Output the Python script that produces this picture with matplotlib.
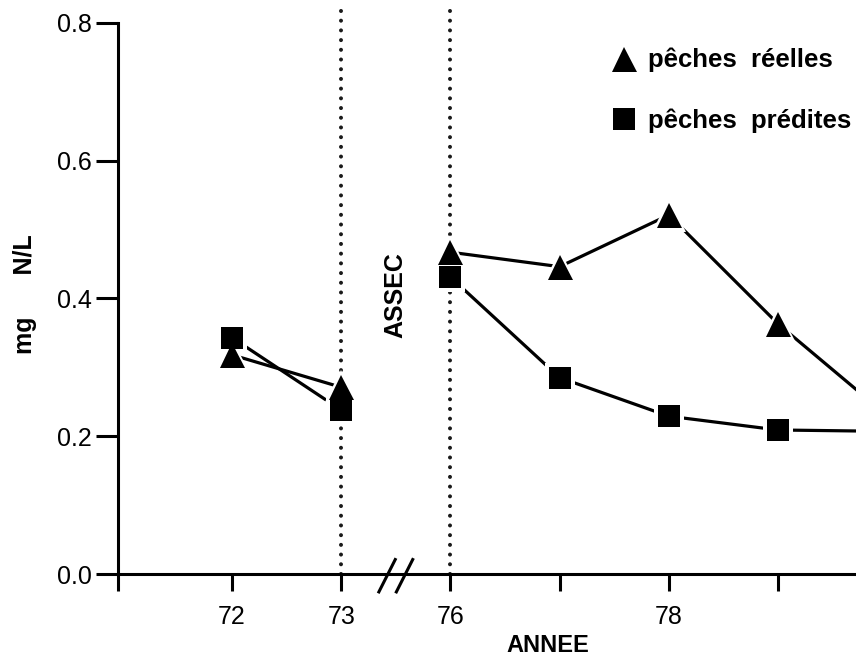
import matplotlib
matplotlib.use("Agg")
import matplotlib.pyplot as plt
from matplotlib.markers import MarkerStyle

plt.rcParams['font.family'] = ['Liberation Sans', 'DejaVu Sans']

# ---- data ----
years = ["72", "73", "76", "77", "78", "79", "80"]
tick_labels = ["72", "73", "76", "", "78", ""]
reelles = [0.318, 0.271, 0.467, 0.446, 0.521, 0.363, 0.230]
predites = [0.343, 0.238, 0.431, 0.285, 0.229, 0.209, 0.207]
segments = [(0, 2), (2, 7)]          # plotted groups (before / after the ASSEC gap)
assec_years = ["73", "76"]
legend_labels = ["pêches  réelles", "pêches  prédites"]

pos = list(range(1, len(years) + 1))
ypos = dict(zip(years, pos))

fig = plt.figure(figsize=(8.56, 6.56), dpi=100)
ax = fig.add_axes([118 / 856, 82 / 656, 1 - 118 / 856, 574 / 656])

x_left = 1 - 114 / 109.2
x_right = 1 + 624 / 109.2

# dotted vertical lines
for y in assec_years:
    ax.plot([ypos[y], ypos[y]], [0, 0.82], color='#1a1a1a', lw=2.9,
            linestyle=(0, (0.01, 2.4)), dash_capstyle='round', zorder=1)

tri = MarkerStyle('^', joinstyle='round')
sq = MarkerStyle('s', joinstyle='round')

for a, b in segments:
    xs = pos[a:b]
    ax.plot(xs, reelles[a:b], color='black', lw=2.3, zorder=2)
    ax.plot(xs, predites[a:b], color='black', lw=2.3, zorder=2)

# white halos (cut the lines near markers)
ax.plot(pos, reelles, ls='none', marker=tri, ms=25, color='white', mew=0, zorder=3)
ax.plot(pos, predites, ls='none', marker=sq, ms=22, color='white', mew=0, zorder=3)
h1, = ax.plot(pos, reelles, ls='none', marker=tri, ms=18, color='black', mew=0, zorder=5)
h2, = ax.plot(pos, predites, ls='none', marker=sq, ms=15.5, color='black', mew=0, zorder=4)

# spines
for s in ['top', 'right']:
    ax.spines[s].set_visible(False)
ax.spines['left'].set_bounds(0, 0.8)
ax.spines['left'].set_linewidth(2.2)
ax.spines['bottom'].set_linewidth(2.2)

ax.set_yticks([0.0, 0.2, 0.4, 0.6, 0.8])
ax.set_yticklabels(["0.0", "0.2", "0.4", "0.6", "0.8"])
ax.set_xticks([x_left] + pos[:6])
ax.set_xticklabels([""] + tick_labels)
ax.set_xlim(x_left, x_right)
ax.set_ylim(0, 0.833)
ax.tick_params(axis='y', direction='out', length=16, width=2.2, labelsize=18, pad=3)
ax.tick_params(axis='x', direction='out', length=12, width=2.2, labelsize=18, pad=10)

# axis break marks
mid = (ypos["73"] + ypos["76"]) / 2
for off in (-0.08, 0.08):
    ax.plot([mid + off - 0.075, mid + off + 0.075], [-0.026, 0.021], color='black',
            lw=2.2, clip_on=False, zorder=6)

ax.text(mid, 0.405, "ASSEC", rotation=90, ha='center', va='center',
        fontsize=18, fontweight='bold')

ax.set_ylabel("mg      N/L", fontsize=18, fontweight='bold', va='center')
ax.yaxis.set_label_coords(-0.126, 0.488)
ax.set_xlabel("ANNEE", fontsize=17, fontweight='bold', va='center')
ax.xaxis.set_label_coords(0.583, -0.125)

leg = fig.legend([h1, h2], legend_labels, loc='upper left',
                 bbox_to_anchor=(611 / 856, 1 - 48 / 656), frameon=False,
                 prop={'weight': 'bold', 'size': 18.5}, handlelength=1.0,
                 handletextpad=0.45, labelspacing=1.4, borderpad=0, borderaxespad=0)

fig.savefig("out.png", dpi=100)
